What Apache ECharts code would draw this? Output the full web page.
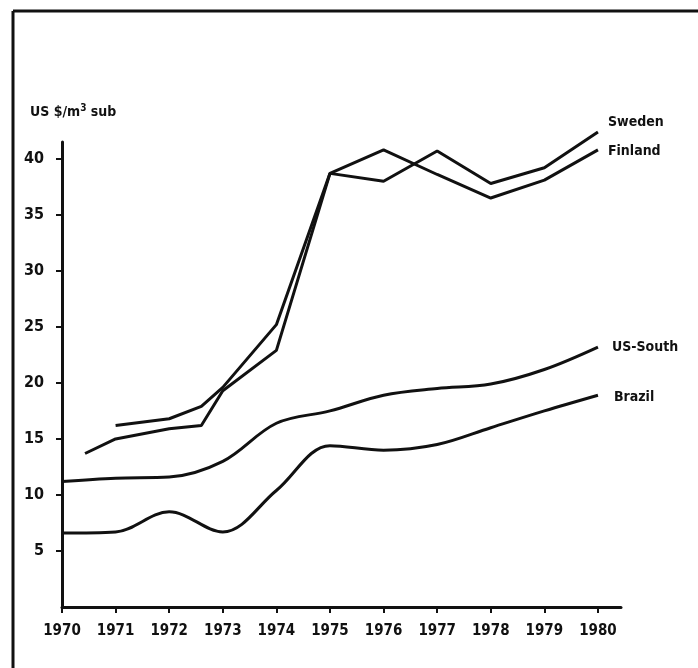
<!DOCTYPE html>
<html>
<head>
<meta charset="utf-8">
<script src="https://cdn.jsdelivr.net/npm/echarts@6/dist/echarts.min.js"></script>
<style>
  html, body { margin: 0; padding: 0; background: #fff; }
  #chart { width: 698px; height: 668px; }
</style>
</head>
<body>
<div id="chart"></div>
<script>
// values (US $ per m3 sub)
const years = [1970, 1971, 1972, 1973, 1974, 1975, 1976, 1977, 1978, 1979, 1980]
const yTicks = [5, 10, 15, 20, 25, 30, 35, 40]

const sweden = [[1971, 16.2], [1972, 16.8], [1972.6, 17.9], [1973, 19.6], [1974, 25.2], [1975, 38.7],
  [1976, 38.0], [1977, 40.7], [1978, 37.8], [1979, 39.2], [1980, 42.4]]
const finland = [[1970.43, 13.7], [1971, 15.0], [1972, 15.9], [1972.6, 16.2], [1973, 19.3], [1974, 22.9],
  [1975, 38.7], [1976, 40.8], [1977, 38.6], [1978, 36.5], [1979, 38.1], [1980, 40.8]]
const usSouth = [[1970, 11.2], [1971, 11.5], [1972, 11.6], [1973, 13.0], [1974, 16.4], [1975, 17.5],
  [1976, 18.9], [1977, 19.5], [1978, 19.9], [1979, 21.2], [1980, 23.2]]
const brazil = [[1970, 6.6], [1971, 6.7], [1972, 8.5], [1973, 6.7], [1974, 10.4], [1975, 14.4],
  [1976, 14.0], [1977, 14.5], [1978, 16.0], [1979, 17.5], [1980, 18.9]]

const ink = '#111'
const font = "'DejaVu Sans Condensed', 'DejaVu Sans', sans-serif"

const lineSeries = (name, data, smooth, offset) => ({
  name,
  type: 'line',
  data,
  smooth,
  clip: false,
  symbol: 'none',
  lineStyle: { color: ink, width: 3 },
  endLabel: {
    show: true,
    formatter: name,
    offset,
    color: ink,
    fontFamily: font,
    fontWeight: 'bold',
    fontSize: 14
  }
})

const chart = echarts.init(document.getElementById('chart'))
chart.setOption({
  animation: false,
  backgroundColor: '#fff',
  grid: { left: 62, right: 77, top: 142, bottom: 61 },
  xAxis: {
    type: 'value',
    min: 1970,
    max: 1980.43,
    splitLine: { show: false },
    axisLine: { lineStyle: { color: ink, width: 3 } },
    axisTick: { length: 6, lineStyle: { color: ink, width: 2 }, customValues: years },
    axisLabel: {
      customValues: years,
      formatter: v => String(v),
      margin: 17,
      color: ink,
      fontFamily: font,
      fontWeight: 'bold',
      fontSize: 15
    }
  },
  yAxis: {
    type: 'value',
    min: 0,
    max: 41.5,
    splitLine: { show: false },
    axisLine: { show: true, lineStyle: { color: ink, width: 3 } },
    axisTick: { show: true, length: 6, lineStyle: { color: ink, width: 2 }, customValues: yTicks },
    axisLabel: {
      customValues: yTicks,
      margin: 18,
      color: ink,
      fontFamily: font,
      fontWeight: 'bold',
      fontSize: 16
    }
  },
  graphic: [
    { type: 'line', shape: { x1: 13, y1: 11, x2: 13, y2: 668 }, style: { stroke: ink, lineWidth: 3 } },
    { type: 'line', shape: { x1: 13, y1: 11, x2: 698, y2: 11 }, style: { stroke: ink, lineWidth: 3 } },
    {
      type: 'text',
      left: 30,
      top: 103,
      style: {
        text: 'US $/m{sup|3} sub',
        fill: ink,
        font: "bold 14px 'DejaVu Sans Condensed', sans-serif",
        rich: {
          sup: { fontSize: 10, fontWeight: 'bold', fontFamily: font, verticalAlign: 'top', padding: [0, 0, 8, 0] }
        }
      }
    }
  ],
  series: [
    lineSeries('Sweden', sweden, false, [2, -10]),
    lineSeries('Finland', finland, false, [2, 2]),
    lineSeries('US-South', usSouth, 0.35, [6, 0]),
    lineSeries('Brazil', brazil, 0.35, [8, 2])
  ]
})
</script>
</body>
</html>
